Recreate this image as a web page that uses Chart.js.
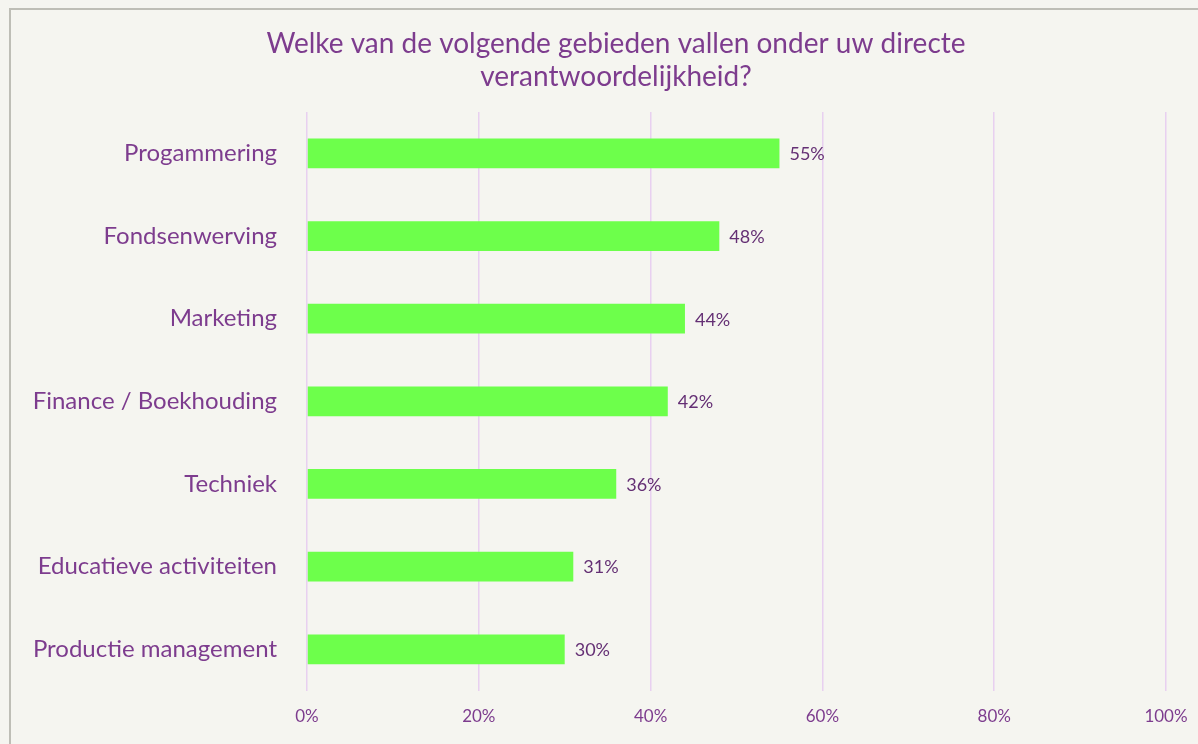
<!DOCTYPE html>
<html>
<head>
<meta charset="utf-8">
<script src="https://cdn.jsdelivr.net/npm/chart.js@4"></script>
<style>
    body { margin: 0; background: #f5f5f0; overflow: hidden; }
    .box {
        position: absolute; left: 9px; top: 8px;
        width: 1230px; height: 760px;
        border-left: 2px solid #bebeb6; border-top: 2px solid #bebeb6;
    }
    canvas { display: block; }
</style>
</head>
<body>
<div class="box"><canvas id="chart" width="1210" height="734"></canvas></div>
<script>
const titleLines = ['Welke van de volgende gebieden vallen onder uw directe', 'verantwoordelijkheid?'];
const categories = ['Progammering', 'Fondsenwerving', 'Marketing', 'Finance / Boekhouding',
                    'Techniek', 'Educatieve activiteiten', 'Productie management'];
const values = [55, 48, 44, 42, 36, 31, 30];
const xTicks = [0, 20, 40, 60, 80, 100];

const purple = '#7d3c8e';
const FONT = 'Lato, "Noto Sans", sans-serif';

// value labels at the end of each bar
const barLabels = {
    id: 'barLabels',
    afterDatasetsDraw(chart) {
        const ctx = chart.ctx;
        const meta = chart.getDatasetMeta(0);
        ctx.save();
        ctx.font = '18px ' + FONT;
        ctx.fillStyle = '#642f74';
        ctx.textAlign = 'left';
        ctx.textBaseline = 'middle';
        meta.data.forEach((bar, i) => {
            ctx.fillText(values[i] + '%', bar.x + 10, bar.y + 1);
        });
        ctx.restore();
    }
};

// centre the title on the full canvas width, not the padded box
const wideTitle = {
    id: 'wideTitle',
    afterLayout(chart) {
        const t = chart.titleBlock;
        if (!t) return;
        t.left = 0;
        t.right = chart.width;
        t.width = chart.width;
    }
};

new Chart(document.getElementById('chart'), {
    type: 'bar',
    data: {
        labels: categories,
        datasets: [{
            data: values,
            backgroundColor: '#6dff4b',
            borderWidth: 0,
            categoryPercentage: 1,
            barPercentage: 0.36,
        }]
    },
    options: {
        indexAxis: 'y',
        responsive: false,
        animation: false,
        layout: { padding: { top: 17, right: 55, bottom: 1, left: 0 } },
        plugins: {
            legend: { display: false },
            tooltip: { enabled: false },
            title: {
                display: true,
                text: titleLines,
                color: purple,
                font: { family: FONT, size: 28, weight: 'normal', lineHeight: 1.18 },
                padding: { top: 0, bottom: 19 }
            }
        },
        scales: {
            x: {
                min: 0,
                max: 100,
                afterBuildTicks: (scale) => { scale.ticks = xTicks.map(v => ({ value: v })); },
                grid: { color: '#e8d0f0', lineWidth: 1.5, drawTicks: false },
                border: { display: false },
                ticks: {
                    color: purple,
                    padding: 16,
                    font: { family: FONT, size: 17 },
                    callback: (v) => v + '%'
                }
            },
            y: {
                afterFit: (scale) => { scale.width = 296; },
                grid: { display: false, drawTicks: false },
                border: { display: false },
                ticks: {
                    color: purple,
                    padding: 30,
                    font: { family: FONT, size: 24 }
                }
            }
        }
    },
    plugins: [barLabels, wideTitle]
});
</script>
</body>
</html>
